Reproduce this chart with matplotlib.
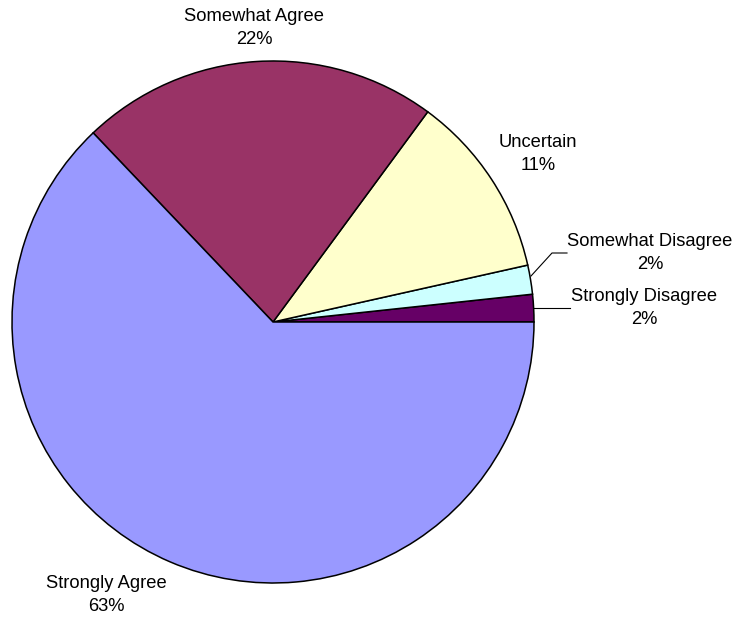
import matplotlib
matplotlib.use("Agg")
import matplotlib.pyplot as plt

categories = ["Strongly Disagree", "Somewhat Disagree", "Uncertain", "Somewhat Agree", "Strongly Agree"]
values = [1.7, 1.8, 11.4, 22.2, 62.9]
pct_labels = ["2%", "2%", "11%", "22%", "63%"]
colors = ["#660066", "#CCFFFF", "#FFFFCC", "#993366", "#9999FF"]

W, H = 739, 620
fig = plt.figure(figsize=(W / 100, H / 100), dpi=100)
ax = fig.add_axes([0, 0, 1, 1])

cx, cy, r = 273, H - 322, 261
ax.pie(values, colors=colors, startangle=0, counterclock=True,
       center=(cx, cy), radius=r, frame=True,
       wedgeprops=dict(edgecolor="black", linewidth=1.1))
ax.set_xlim(0, W)
ax.set_ylim(0, H)
ax.axis("off")

font = dict(family=["Liberation Sans", "DejaVu Sans"], fontsize=13.2, ha="center", va="center",
            linespacing=1.4)
label_pos = {
    "Strongly Disagree": (644, H - 308),
    "Somewhat Disagree": (650, H - 253),
    "Uncertain": (538, H - 154),
    "Somewhat Agree": (254, H - 28),
    "Strongly Agree": (106, H - 595),
}
for cat, pct in zip(categories, pct_labels):
    x, y = label_pos[cat]
    ax.text(x, y, f"{cat}\n{pct}", **font)

# leader lines
ax.plot([531, 552, 567], [H - 276, H - 253, H - 253], color="black", lw=0.8)
ax.plot([534, 570], [H - 308, H - 308], color="black", lw=0.8)

fig.savefig("out.png", dpi=100)
